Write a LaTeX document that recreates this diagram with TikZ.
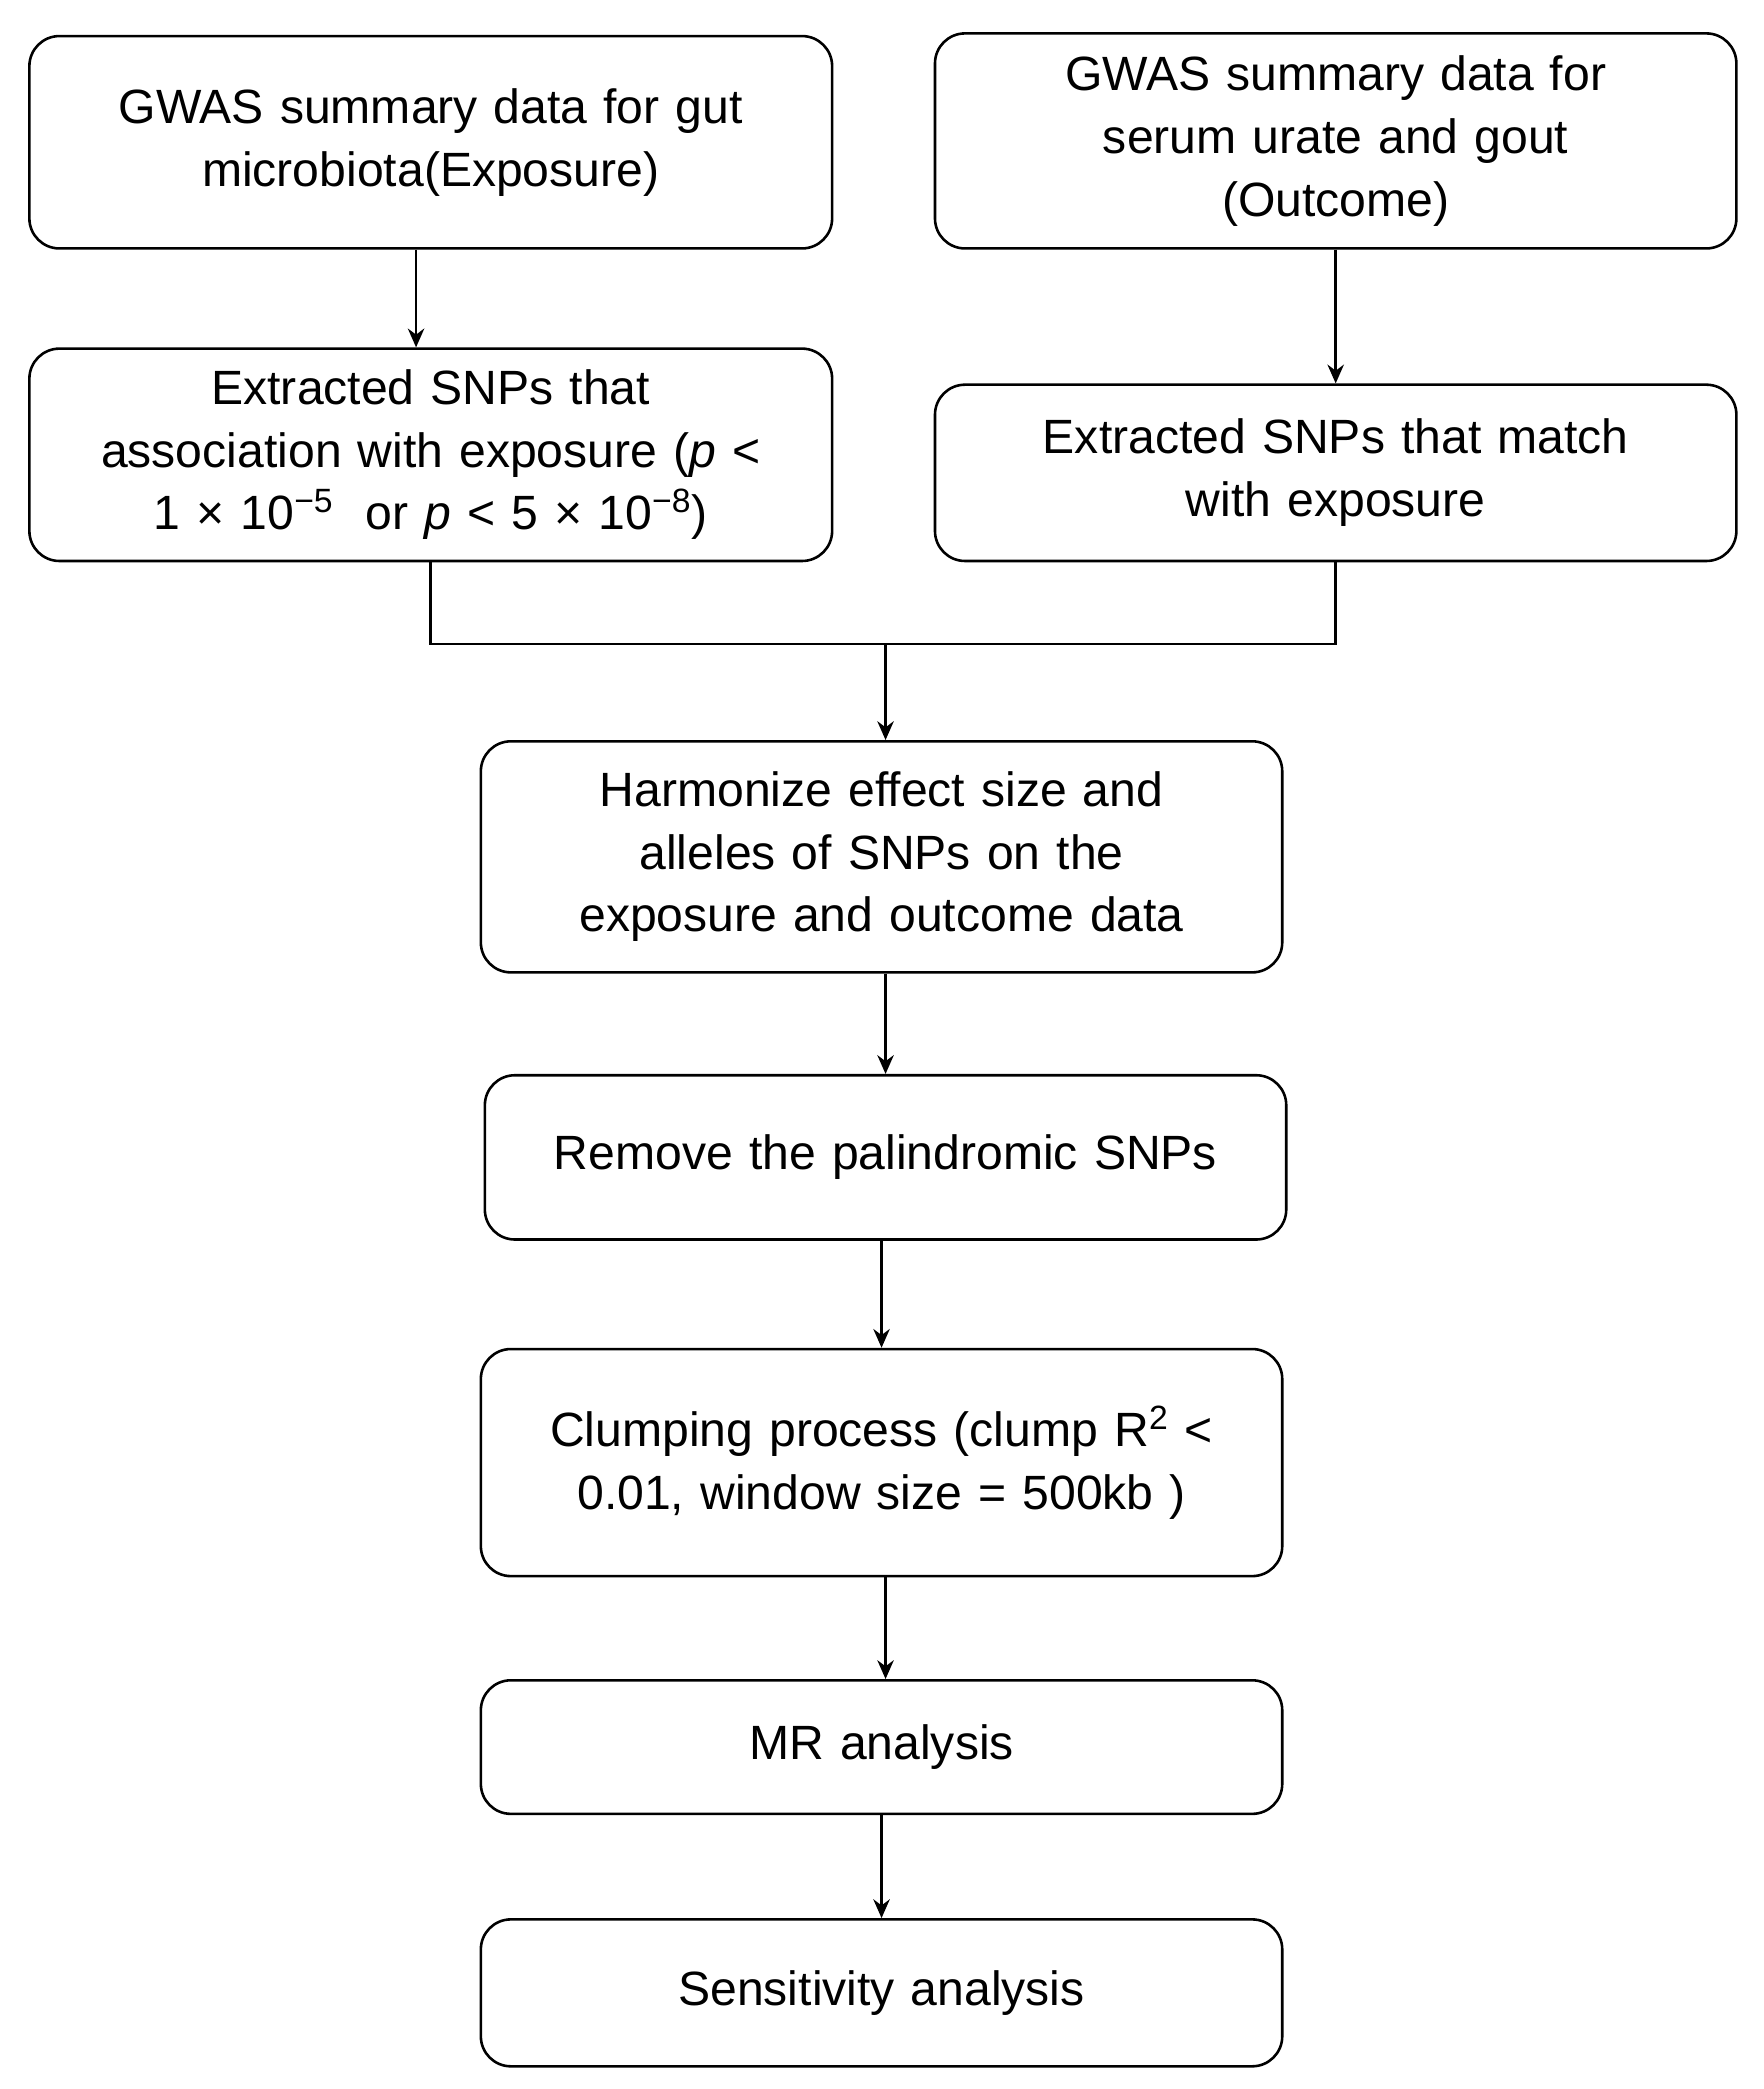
\documentclass[tikz,border=0pt]{standalone}
\usepackage{fontspec}
\setmainfont{Liberation Sans}
\usetikzlibrary{arrows.meta}

\begin{document}
\begin{tikzpicture}[>={Stealth[length=8pt,width=7pt]}, line width=1.1pt,
stage/.style={draw, rounded corners=0.45cm, minimum width=12cm, align=center,
  text width=11.4cm, font=\fontsize{20.5}{26.7}\selectfont, inner sep=0pt},
link/.style={->}]
\useasboundingbox (0,0) rectangle (26.4,-31.28);

\node [stage, minimum width=12.02cm, minimum height=3.18cm] (gut) at (6.45,-2.13)
  {GWAS summary data for gut\\ microbiota(Exposure)};
\node [stage, minimum height=3.22cm] (urate) at (20,-2.11)
  {GWAS summary data for\\ serum urate and gout\\ (Outcome)};
\node [stage, minimum width=12.02cm, minimum height=3.18cm] (snpexp) at (6.45,-6.81)
  {Extracted SNPs that\\ association with exposure (\textit{p} <\\
   1 × 10\textsuperscript{−5}\ \ or \textit{p} < 5 × 10\textsuperscript{−8})};
\node [stage, minimum height=2.64cm] (snpout) at (20,-7.08)
  {Extracted SNPs that match\\ with exposure};
\node [stage, minimum height=3.46cm] (harm) at (13.2,-12.83)
  {Harmonize effect size and\\ alleles of SNPs on the\\ exposure and outcome data};
\node [stage, minimum height=2.46cm] (palin) at (13.26,-17.33)
  {Remove the palindromic SNPs};
\node [stage, minimum height=3.4cm] (clump) at (13.2,-21.9)
  {Clumping process (clump R\textsuperscript{2} <\\ 0.01, window size = 500kb )};
\node [stage, minimum height=2cm] (mr) at (13.2,-26.16) {MR analysis};
\node [stage, minimum height=2.2cm] (sens) at (13.2,-29.84) {Sensitivity analysis};

\coordinate (join) at (13.26,-9.64);

\draw [link] ([xshift=-0.22cm]gut.south) -- ([xshift=-0.22cm]snpexp.north);
\draw [link] (urate.south) -- (snpout.north);
\draw (snpexp.south) |- (join) -| (snpout.south);
\draw [link] (join) -- (harm.north -| join);
\draw [link] (harm.south -| join) -- (palin.north -| join);
\draw [link] ([xshift=-0.06cm]palin.south) -- (clump.north);
\draw [link] (clump.south -| join) -- (mr.north -| join);
\draw [link] (mr.south) -- (sens.north);
\end{tikzpicture}
\end{document}
